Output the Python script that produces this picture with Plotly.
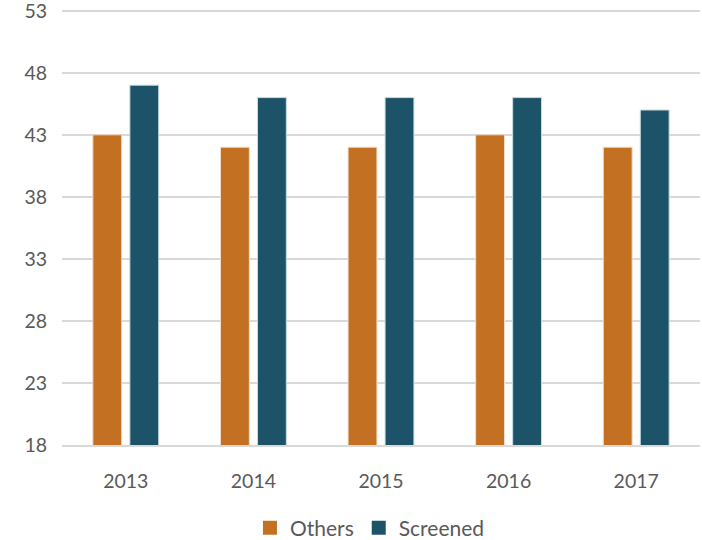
import plotly.graph_objects as go

years = ["2013", "2014", "2015", "2016", "2017"]
others = [43, 42, 42, 43, 42]
screened = [47, 46, 46, 46, 45]
y_ticks = [18, 23, 28, 33, 38, 43, 48, 53]

series = [
    ("Others", others, "#C37022", "#F2DCC8"),
    ("Screened", screened, "#1C5368", "#C9DCE3"),
]

font_family = "Lato, 'Open Sans', sans-serif"
text_color = "#595959"

fig = go.Figure()
for name, values, color, edge in series:
    fig.add_trace(go.Bar(
        name=name, x=years, y=values, showlegend=False,
        marker=dict(color=color, line=dict(color=edge, width=1)),
    ))
# legend entries with larger square swatches
for name, values, color, edge in series:
    fig.add_trace(go.Scatter(
        name=name, x=[None], y=[None], mode="markers",
        marker=dict(symbol="square", size=14, color=color),
    ))

fig.update_layout(
    width=702, height=540,
    margin=dict(l=62, r=2, t=7, b=95, autoexpand=False),
    paper_bgcolor="white", plot_bgcolor="white",
    barmode="group", bargap=0.42, bargroupgap=0.22,
    font=dict(family=font_family, size=19.5, color=text_color),
    legend=dict(
        orientation="h", xref="container", yref="container",
        x=0.527, xanchor="center", y=0.022, yanchor="middle",
        font=dict(size=21, color=text_color),
        traceorder="normal", itemwidth=30,
    ),
    xaxis=dict(showgrid=False, showline=True, linecolor="#D9D9D9", linewidth=1.5,
               ticks="", ticklabelstandoff=18, tickfont=dict(size=19.5)),
    yaxis=dict(range=[18, 53.3], tickvals=y_ticks, showgrid=True,
               gridcolor="#D9D9D9", gridwidth=1.5, zeroline=False,
               ticks="", ticklabelstandoff=14, ticklabeloverflow="allow",
               tickfont=dict(size=19.5)),
)

fig.write_html("out.html")
